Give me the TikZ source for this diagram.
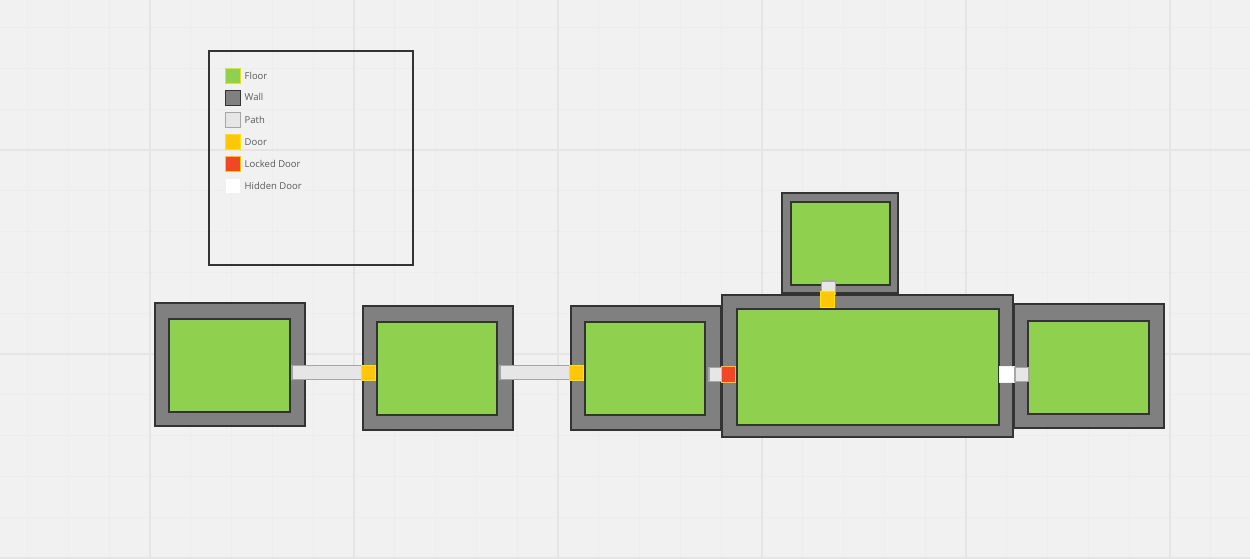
\documentclass[tikz,border=0pt]{standalone}
\usepackage{fontspec}
\setmainfont{Open Sans}
\usetikzlibrary{positioning}
\definecolor{canvas}{HTML}{F1F1F1}
\definecolor{floorc}{HTML}{8FD14F}
\definecolor{wallc}{HTML}{808080}
\definecolor{pathc}{HTML}{E6E6E6}
\definecolor{doorc}{HTML}{FFC60A}
\definecolor{lockc}{HTML}{F24726}
\definecolor{linec}{HTML}{333333}
\tikzset{
	wall/.style={draw=linec, fill=wallc, line width=1.3pt, rectangle, inner sep=0pt, outer sep=0pt},
	floorbox/.style={draw=linec, fill=floorc, line width=1.3pt, rectangle, inner sep=0pt, outer sep=0pt},
	pathbox/.style={draw=black!35, fill=pathc, line width=1.2pt, rectangle, inner sep=0pt, outer sep=0pt},
	doorbox/.style={draw=yellow!70!doorc, fill=doorc, line width=1.2pt, rectangle, inner sep=0pt, outer sep=0pt},
	lockbox/.style={draw=doorc, fill=lockc, line width=1.2pt, rectangle, inner sep=0pt, outer sep=0pt},
	hiddenbox/.style={draw=black!6, fill=white, line width=1.2pt, rectangle, inner sep=0pt, outer sep=0pt},
	swatch/.style={rectangle, inner sep=0pt, outer sep=0pt, minimum size=15pt},
	lbl/.style={font=\fontsize{9.5}{11}\selectfont, text=black!65, inner sep=0pt, anchor=west}
}
% box with size given in picture units
\newcommand{\room}[6]{\node[#1, minimum width=#4pt, minimum height=#5pt] (#2) at (#3) {#6};}
\begin{document}
\begin{tikzpicture}[x=1pt, y=-1pt]
	\useasboundingbox (0,0) rectangle (1250,558);
	\fill[canvas] (0,0) rectangle (1250,558);

	% grid
	\foreach \i in {-3,...,27} {
		\draw[black!7, line width=0.8pt] ({150+40.8*\i},0) -- ({150+40.8*\i},558);
	}
	\foreach \j in {-3,...,10} {
		\draw[black!7, line width=0.8pt] (0,{150+40.8*\j}) -- (1250,{150+40.8*\j});
	}
	\foreach \i in {0,...,5} {
		\draw[black!10, line width=1.5pt] ({150+204*\i},0) -- ({150+204*\i},558);
	}
	\foreach \j in {0,1,2} {
		\draw[black!10, line width=1.5pt] (0,{150+204*\j}) -- (1250,{150+204*\j});
	}

	% legend
	\room{draw=linec, line width=1.3pt, inner sep=0pt, outer sep=0pt}{legend}{311,158}{204}{214}{}
	\node[floorbox, swatch, draw=yellow!70!floorc, line width=1pt] (sfloor) at (233,76) {};
	\node[wall, swatch, line width=1.3pt, below=7pt of sfloor] (swall) {};
	\node[pathbox, swatch, below=7pt of swall] (spath) {};
	\node[doorbox, swatch, below=7pt of spath] (sdoor) {};
	\node[lockbox, swatch, below=7pt of sdoor] (slock) {};
	\node[hiddenbox, swatch, below=7pt of slock] (shidden) {};
	\node[lbl, right=4pt of sfloor] (tfloor) {Floor};
	\node[lbl, right=4pt of swall, yshift=1pt] (twall) {Wall};
	\node[lbl, right=4pt of spath] (tpath) {Path};
	\node[lbl, right=4pt of sdoor] (tdoor) {Door};
	\node[lbl, right=4pt of slock] (tlock) {Locked Door};
	\node[lbl, right=4pt of shidden] (thidden) {Hidden Door};

	% rooms
	\room{wall}{wa}{230,364.5}{150}{123}{}
	\room{wall}{wb}{438,368}{150}{124}{}
	\room{wall}{wc}{646,368}{150}{124}{}
	\room{wall}{we}{1089,366}{150}{124}{}
	\room{wall}{wf}{840,243}{116}{100}{}
	\room{wall}{wd}{867.5,366}{291}{142}{}
	\room{floorbox}{fa}{229.5,365.5}{121}{93}{}
	\room{floorbox}{fb}{437,368.5}{120}{93}{}
	\room{floorbox}{fc}{645,368.5}{120}{93}{}
	\room{floorbox}{fd}{868,367}{262}{116}{}
	\room{floorbox}{fe}{1088.5,367.5}{121}{93}{}
	\room{floorbox}{ff}{840.5,243.5}{99}{83}{}

	% paths and doors
	\room{pathbox}{pa}{327,372.5}{70}{14}{}
	\room{doorbox}{da}{368.5,373}{14}{15}{}
	\room{pathbox}{pb}{535,372.5}{70}{14}{}
	\room{doorbox}{db}{576.5,373}{14}{15}{}
	\room{pathbox}{pc}{715.5,374.5}{13}{14}{}
	\room{lockbox}{dc}{728.5,374.5}{14}{16}{}
	\room{hiddenbox}{dd}{1007,374.5}{15}{16}{}
	\room{pathbox}{pd}{1022,374.5}{14}{14}{}
	\room{pathbox}{pe}{828.5,287.5}{14}{13}{}
	\room{doorbox}{de}{827.5,299.5}{14}{16}{}
\end{tikzpicture}
\end{document}
